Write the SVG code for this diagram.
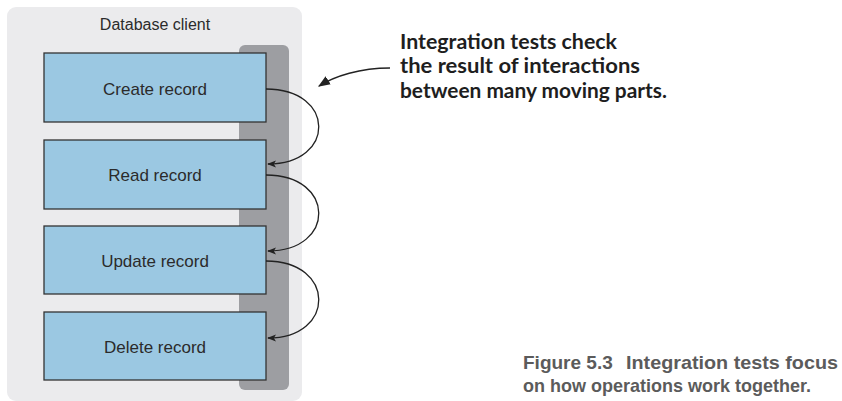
<svg xmlns="http://www.w3.org/2000/svg" width="842" height="401" viewBox="0 0 842 401">
<defs>
<style>
.box{fill:#9bc8e2;stroke:#333;stroke-width:1.3}
.lbl{font-family:"Liberation Sans",Arial,sans-serif;font-size:17px;fill:#2b2b2b;text-anchor:middle}
.conn{fill:none;stroke:#222;stroke-width:1.3}
.note{font-family:Lato,"Open Sans",sans-serif;font-weight:bold;font-size:20px;fill:#1e1e1e}
.cap{font-family:"Liberation Sans",Arial,sans-serif;font-weight:bold;font-size:19px;fill:#5b5b5b}
</style>
<marker id="ah" viewBox="0 0 10 10" refX="9" refY="5" markerWidth="9" markerHeight="9" markerUnits="userSpaceOnUse" orient="auto">
<path d="M0,1 L10,5 L0,9 L2.5,5 Z" fill="#222"/>
</marker>
<marker id="ah2" viewBox="0 0 10 10" refX="9" refY="5" markerWidth="12" markerHeight="12" markerUnits="userSpaceOnUse" orient="auto">
<path d="M0,1 L10,5 L0,9 Z" fill="#222"/>
</marker>
</defs>
<g id="panel">
<rect x="7" y="7" width="295" height="394" rx="9" fill="#ebebed"/>
<text x="155" y="30" class="lbl" style="font-size:16px">Database client</text>
<rect x="239" y="45" width="50" height="345" rx="6" fill="#9d9ea2"/>
</g>
<g id="create"><rect class="box" x="44" y="53" width="222" height="69"/><text class="lbl" x="155" y="95">Create record</text></g>
<g id="read"><rect class="box" x="44" y="140" width="222" height="69"/><text class="lbl" x="155" y="181">Read record</text></g>
<g id="update"><rect class="box" x="44" y="226" width="222" height="68"/><text class="lbl" x="155" y="267">Update record</text></g>
<g id="delete"><rect class="box" x="44" y="312" width="222" height="68"/><text class="lbl" x="155" y="353">Delete record</text></g>
<g id="connectors">
<path class="conn" d="M266,89 C336,89 336,164 268,164" marker-end="url(#ah)"/>
<path class="conn" d="M266,175 C336,175 336,251 268,251" marker-end="url(#ah)"/>
<path class="conn" d="M266,261 C336,261 336,338 268,338" marker-end="url(#ah)"/>
<path class="conn" d="M390,68 C360,68 335,76 319,86" marker-end="url(#ah2)"/>
</g>
<g id="note">
<text class="note" x="400" y="49" textLength="217" lengthAdjust="spacingAndGlyphs">Integration tests check</text>
<text class="note" x="400" y="73" textLength="240" lengthAdjust="spacingAndGlyphs">the result of interactions</text>
<text class="note" x="400" y="98" textLength="267" lengthAdjust="spacingAndGlyphs">between many moving parts.</text>
</g>
<g id="caption">
<text class="cap" x="523" y="369">Figure 5.3</text>
<text class="cap" x="626" y="369" textLength="212" lengthAdjust="spacingAndGlyphs">Integration tests focus</text>
<text class="cap" x="523" y="392" textLength="288" lengthAdjust="spacingAndGlyphs">on how operations work together.</text>
</g>
</svg>
